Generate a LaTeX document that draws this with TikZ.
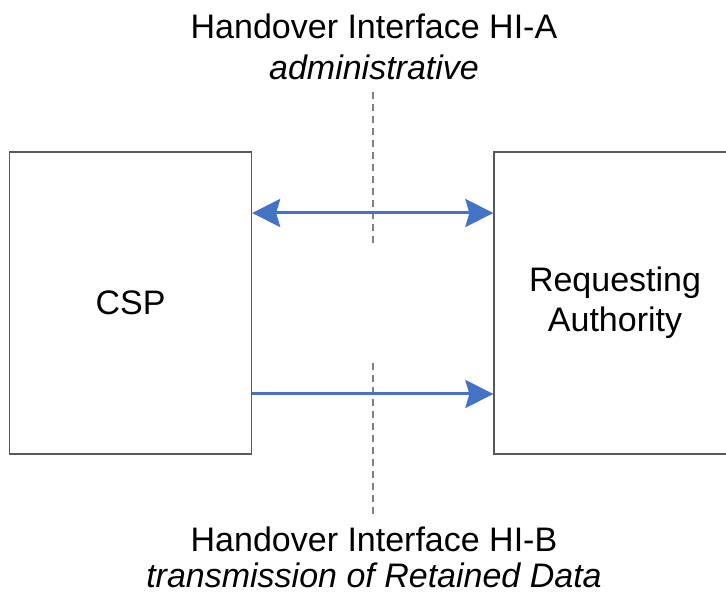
\documentclass[tikz,border=0pt]{standalone}
\usepackage{fontspec}
\setmainfont{Liberation Sans}
\usetikzlibrary{arrows.meta}
\definecolor{arrowblue}{HTML}{4472C4}
\definecolor{boxgray}{HTML}{595959}
\definecolor{dashgray}{HTML}{7F7F7F}
\begin{document}
\begin{tikzpicture}[x=1pt,y=-1pt,
  every node/.style={font=\fontsize{34}{40}\selectfont},
  blockbox/.style={draw=boxgray,line width=1.3pt,minimum width=242pt,minimum height=302pt,inner sep=0pt,align=center},
  label/.style={inner sep=0pt,anchor=base},
  flow/.style={draw=arrowblue,line width=3pt},
  divider/.style={draw=dashgray,line width=2pt,dash pattern=on 7pt off 5pt}]
\useasboundingbox (0,0) rectangle (726,593);
\begin{scope}
\clip (0,0) rectangle (726,593);
\node[blockbox] (csp) at (130.5,303) {CSP};
\node[blockbox] (ra) at (615,303) {Requesting\\Authority};
\end{scope}
\node[label] (hia) at (374,39) {Handover Interface HI-A};
\node[label] (hiasub) at (374,80) {\itshape administrative};
\node[label] (hib) at (374,551) {Handover Interface HI-B};
\node[label] (hibsub) at (374,587) {\itshape transmission of Retained Data};
\coordinate (da1) at (373,92);
\coordinate (da2) at (373,243);
\coordinate (db1) at (373,363);
\coordinate (db2) at (373,515);
\draw[divider] (da1) -- (da2);
\draw[divider] (db1) -- (db2);
\draw[flow,{Stealth[length=28pt,width=28pt,inset=4pt]}-{Stealth[length=28pt,width=28pt,inset=4pt]}] (csp.east |- 0,213) -- (ra.west |- 0,213);
\draw[flow,-{Stealth[length=28pt,width=28pt,inset=4pt]}] (csp.east |- 0,394) -- (ra.west |- 0,394);
\end{tikzpicture}
\end{document}
